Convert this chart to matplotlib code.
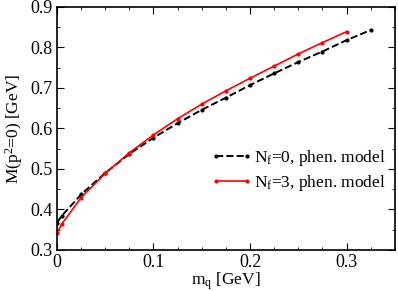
import matplotlib
matplotlib.use("Agg")
import matplotlib.pyplot as plt
from matplotlib.ticker import MultipleLocator

plt.rcParams['font.family'] = 'serif'
plt.rcParams['font.serif'] = ['Liberation Serif', 'DejaVu Serif']
plt.rcParams['mathtext.fontset'] = 'custom'
plt.rcParams['mathtext.rm'] = 'Liberation Serif'
plt.rcParams['mathtext.it'] = 'Liberation Serif:italic'

# Nf=0 phenomenological model
mq_0 = [0.0, 0.005, 0.025, 0.05, 0.075, 0.1, 0.125, 0.15, 0.175, 0.2, 0.225, 0.25, 0.275, 0.3, 0.325]
M_0 = [0.367, 0.384, 0.437, 0.490, 0.537, 0.577, 0.613, 0.646, 0.676, 0.707, 0.736, 0.764, 0.790, 0.818, 0.843]

# Nf=3 phenomenological model
mq_3 = [0.0, 0.005, 0.025, 0.05, 0.075, 0.1, 0.125, 0.15, 0.175, 0.2, 0.225, 0.25, 0.275, 0.3]
M_3 = [0.341, 0.364, 0.429, 0.489, 0.540, 0.584, 0.624, 0.660, 0.693, 0.724, 0.754, 0.784, 0.812, 0.839]

fig = plt.figure(figsize=(3.98, 2.91), dpi=100)
ax = fig.add_axes([0.143, 0.141, 0.849, 0.835])

ax.plot(mq_0, M_0, color='black', ls='--', lw=1.4, marker='o', ms=2,
        label=r'N$_\mathrm{f}$=0, phen. model')
ax.plot(mq_3, M_3, color='red', ls='-', lw=1.2, marker='o', ms=2,
        label=r'N$_\mathrm{f}$=3, phen. model')

ax.set_xlim(0, 0.35)
ax.set_ylim(0.3, 0.9)
ax.xaxis.set_minor_locator(MultipleLocator(0.025))
ax.yaxis.set_major_locator(MultipleLocator(0.1))
ax.yaxis.set_minor_locator(MultipleLocator(0.05))
ax.set_xticks([0, 0.1, 0.2, 0.3])
ax.set_xticklabels(['0', '0.1', '0.2', '0.3'])
ax.tick_params(which='both', direction='in', top=True, right=True, labelsize=13)
ax.tick_params(which='major', length=5, pad=3)
ax.tick_params(which='minor', length=2.5)
for s in ax.spines.values():
    s.set_linewidth(1.2)

ax.set_xlabel(r'm$_\mathrm{q}$ [GeV]', fontsize=12.5)
ax.xaxis.set_label_coords(0.5, -0.085)
ax.set_ylabel(r'M(p$^2$=0) [GeV]', fontsize=12.5, labelpad=4)

ax.legend(loc='lower right', bbox_to_anchor=(1.0, 0.2), frameon=False, fontsize=12.5,
          numpoints=2, handlelength=2.4, handletextpad=0.1, labelspacing=0.25,
          borderaxespad=0.1)

fig.savefig('out.png', dpi=100)
